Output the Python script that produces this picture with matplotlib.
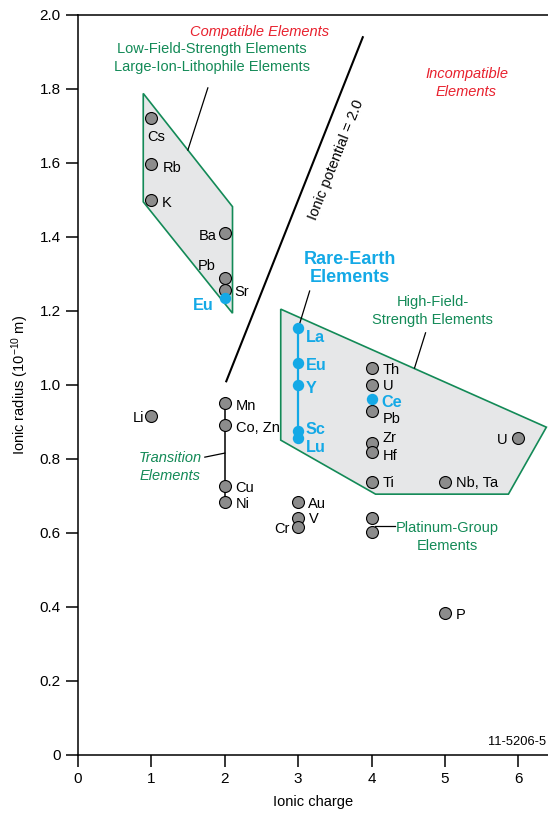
import matplotlib
matplotlib.use("Agg")
import matplotlib.pyplot as plt
from matplotlib.patches import Polygon
from matplotlib.ticker import FixedLocator, FuncFormatter
import numpy as np

plt.rcParams['font.family'] = ['Liberation Sans', 'DejaVu Sans']
plt.rcParams['mathtext.fontset'] = 'custom'
plt.rcParams['mathtext.rm'] = 'Liberation Sans'
plt.rcParams['mathtext.it'] = 'Liberation Sans:italic'

GREEN = '#138a57'
RED = '#e8212e'
BLUE = '#14a9e6'
GRAY = '#8c8c8c'
FILL = '#e6e7e8'

# ---- ions drawn as gray circles -------------------------------------------
ion_names = ["Cs", "Rb", "K", "Ba", "Pb", "Sr", "Li", "Mn", "Co, Zn", "Cu", "Ni",
             "Au", "V", "Cr", "Th", "U", "Pb", "Zr", "Hf", "Ti", "Nb, Ta", "U",
             "P", "", ""]
ion_charge = [1, 1, 1, 2, 2, 2, 1, 2, 2, 2, 2,
              3, 3, 3, 4, 4, 4, 4, 4, 4, 5, 6,
              5, 4, 4]
ion_radius = [1.722, 1.596, 1.500, 1.410, 1.290, 1.257, 0.917, 0.952, 0.892, 0.728, 0.685,
              0.683, 0.640, 0.617, 1.045, 1.000, 0.931, 0.842, 0.818, 0.739, 0.739, 0.856,
              0.385, 0.640, 0.602]

# ---- rare-earth ions (blue) ------------------------------------------------
ree_names = ["Eu", "La", "Eu", "Y", "Sc", "Lu", "Ce"]
ree_charge = [2, 3, 3, 3, 3, 3, 4]
ree_radius = [1.234, 1.153, 1.060, 1.000, 0.876, 0.856, 0.962]

# transition-metal column (Mn .. Ni) and REE column (La .. Lu)
transition_charge = 2
transition_span = [0.952, 0.685]
ree_column_charge = 3
ree_column_span = [1.153, 0.856]

# ---- field outlines ---------------------------------------------------------
lfse_x = [0.889, 0.889, 2.105, 2.105]
lfse_y = [1.788, 1.495, 1.194, 1.482]
hfse_x = [2.762, 2.762, 4.054, 5.864, 6.381]
hfse_y = [1.205, 0.851, 0.705, 0.705, 0.886]

# ionic potential line  r = z / potential
ionic_potential = 2.0
potential_charge_range = [2.02, 3.88]

# axis ticks
x_ticks = [0, 1, 2, 3, 4, 5, 6]
y_ticks = [0, 0.2, 0.4, 0.6, 0.8, 1.0, 1.2, 1.4, 1.6, 1.8, 2.0]

# label placement for each ion: (dx px, dy px, alignment)
ion_label_pos = [(5, -17.7, 'center'), (11, -2, 'left'), (10.5, -1.5, 'left'),
                 (-8.6, -0.7, 'right'), (-17.7, 13.7, 'center'), (9.3, -0.7, 'left'),
                 (-7, -1, 'right'), (10.7, -1.3, 'left'), (10.7, -1.7, 'left'),
                 (10.7, -1, 'left'), (10.7, -1.3, 'left'), (10, -0.4, 'left'),
                 (11, 0.5, 'left'), (-9, -1, 'right'), (11, 0, 'left'), (11, 0, 'left'),
                 (11, -6.7, 'left'), (11, 6.7, 'left'), (11, -2, 'left'), (11, 0, 'left'),
                 (11, 0, 'left'), (-10.7, 0, 'right'), (11, -0.6, 'left'),
                 (0, 0, 'left'), (0, 0, 'left')]
ree_label_pos = [(-11, -6, 'right'), (7.7, -7.7, 'left'), (7.7, -1.3, 'left'),
                 (7.7, -2.3, 'left'), (7.7, 3, 'left'), (7.7, -7.4, 'left'),
                 (10, -1.7, 'left')]

PX = 0.72  # points per pixel at 100 dpi

fig = plt.figure(figsize=(5.48, 8.14), dpi=100)
ax = fig.add_axes([78 / 548, 59 / 814, 470 / 548, 740 / 814])
ax.set_xlim(0, 470 / 73.4)
ax.set_ylim(0, 2.0)

# shaded fields
ax.add_patch(Polygon(np.column_stack([lfse_x, lfse_y]), closed=True,
                     facecolor=FILL, edgecolor=GREEN, lw=1.2, zorder=1))
ax.add_patch(Polygon(np.column_stack([hfse_x, hfse_y]), closed=True,
                     facecolor=FILL, edgecolor=GREEN, lw=1.2, zorder=1, clip_on=False))

# ionic potential line
zc = np.array(potential_charge_range)
ax.plot(zc, zc / ionic_potential, color='black', lw=1.5, zorder=2)
ax.text(3.51, 1.608, "Ionic potential = 2.0", fontsize=10.5,
        rotation=np.degrees(np.arctan(1 / ionic_potential)),
        transform_rotates_text=True, rotation_mode='anchor',
        ha='center', va='center')

# connecting columns
ax.plot([transition_charge] * 2, transition_span, color='black', lw=1.1, zorder=2)
ax.plot([ree_column_charge] * 2, ree_column_span, color=BLUE, lw=1.6, zorder=2)

# markers
ax.plot(ion_charge, ion_radius, 'o', ms=8.6, mfc=GRAY, mec='black', mew=0.8,
        ls='none', zorder=3)
ax.plot(ree_charge, ree_radius, 'o', ms=8.2, mfc=BLUE, mec='none', ls='none', zorder=3)

for name, z, r, (dx, dy, ha) in zip(ion_names, ion_charge, ion_radius, ion_label_pos):
    if name:
        ax.annotate(name, (z, r), xytext=(dx * PX, dy * PX), textcoords='offset points',
                    ha=ha, va='center_baseline', fontsize=10.5, zorder=4)
for name, z, r, (dx, dy, ha) in zip(ree_names, ree_charge, ree_radius, ree_label_pos):
    ax.annotate(name, (z, r), xytext=(dx * PX, dy * PX), textcoords='offset points',
                ha=ha, va='center_baseline', fontsize=11.7, fontweight='bold',
                color=BLUE, zorder=4)

# group captions with leader lines
ax.text(2.476, 1.954, "Compatible Elements", color=RED, fontsize=10.5,
        style='italic', ha='center', va='center')
ax.text(5.293, 1.816, "Incompatible\nElements", color=RED, fontsize=10.5,
        style='italic', ha='center', va='center', linespacing=1.35)
ax.text(1.823, 1.883, "Low-Field-Strength Elements\nLarge-Ion-Lithophile Elements",
        color=GREEN, fontsize=10.5, ha='center', va='center', linespacing=1.35)
ax.plot([1.769, 1.497], [1.803, 1.635], color='black', lw=0.9, zorder=2)

ax.text(3.70, 1.314, "Rare-Earth\nElements", color=BLUE, fontsize=13,
        fontweight='bold', ha='center', va='center', linespacing=1.1)
ax.plot([3.156, 3.0], [1.254, 1.153], color='black', lw=0.9, zorder=2)

ax.text(4.83, 1.200, "High-Field-\nStrength Elements", color=GREEN, fontsize=10.5,
        ha='center', va='center', linespacing=1.35)
ax.plot([4.735, 4.585], [1.141, 1.046], color='black', lw=0.9, zorder=2)

ax.text(1.252, 0.778, "Transition\nElements", color=GREEN, fontsize=10.5,
        style='italic', ha='center', va='center', linespacing=1.35)
ax.plot([1.728, 2.0], [0.805, 0.816], color='black', lw=0.9, zorder=2)

ax.text(5.034, 0.589, "Platinum-Group\nElements", color=GREEN, fontsize=10.5,
        ha='center', va='center', linespacing=1.35)
ax.plot([4.04, 4.313], [0.619, 0.619], color='black', lw=0.9, zorder=2)

fig.text(546 / 548, 1 - 742 / 814, "11-5206-5", fontsize=9.3, ha='right', va='center')

# axes styling
for side in ('left', 'bottom', 'top'):
    ax.spines[side].set_linewidth(1.1)
ax.spines['right'].set_visible(False)
ax.xaxis.set_major_locator(FixedLocator(x_ticks))
ax.yaxis.set_major_locator(FixedLocator(y_ticks))
ax.yaxis.set_major_formatter(FuncFormatter(lambda v, p: "0" if v == 0 else f"{v:.1f}"))
ax.tick_params(direction='out', length=8.5, width=1.1, labelsize=11, pad=4)
ax.tick_params(top=False, right=False)

ax.set_xlabel("Ionic charge", fontsize=10.5, va='center')
ax.xaxis.set_label_coords(0.5, -(801 - 754) / 740)
ax.set_ylabel("Ionic radius (10$^{\\mathregular{-10}}$ m)", fontsize=10.5, va='center')
ax.yaxis.set_label_coords(-(78 - 20) / 470, 0.5)

fig.savefig("out.png", dpi=100)
